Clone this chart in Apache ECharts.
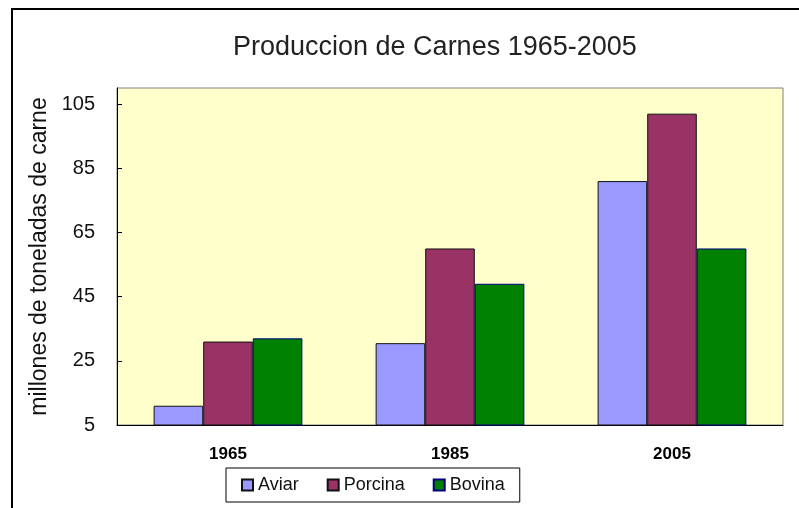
<!DOCTYPE html>
<html>
<head>
<meta charset="utf-8">
<script src="https://cdn.jsdelivr.net/npm/echarts@6/dist/echarts.min.js"></script>
<style>
  html, body { margin: 0; padding: 0; background: #fff; }
  #chart { width: 799px; height: 508px; }
</style>
</head>
<body>
<div id="chart"></div>
<script>
// datos
var years = ['1965', '1985', '2005']
var aviar = [11, 30.5, 81]
var porcina = [31, 60, 102]
var bovina = [32, 49, 60]
var yTicks = [5, 25, 45, 65, 85, 105]

var myChart = echarts.init(document.getElementById('chart'))

function barSeries(name, data, color, border) {
  return {
    name: name,
    type: 'bar',
    data: data,
    barGap: '0%',
    barCategoryGap: '33%',
    itemStyle: { color: color, borderColor: border, borderWidth: 1 }
  }
}

myChart.setOption({
  animation: false,
  backgroundColor: '#fff',
  graphic: [{
    type: 'rect',
    shape: { x: 12, y: 9, width: 820, height: 620 },
    style: { fill: 'none', stroke: '#000', lineWidth: 2 },
    silent: true,
    z: -1
  }],
  title: {
    text: 'Produccion de Carnes 1965-2005',
    left: 228,
    top: 29,
    textStyle: { fontFamily: 'Liberation Sans', fontSize: 27, fontWeight: 'normal', color: '#222' }
  },
  grid: {
    left: 117, right: 16, top: 88, bottom: 83,
    show: true,
    backgroundColor: '#FFFFCC',
    borderColor: '#808080',
    borderWidth: 1
  },
  legend: {
    left: 226,
    top: 468,
    padding: [8, 15],
    itemGap: 28,
    itemWidth: 11,
    itemHeight: 11,
    borderColor: '#000',
    borderWidth: 1,
    icon: 'rect',
    textStyle: { fontFamily: 'Liberation Sans', fontSize: 18, color: '#111' },
    data: ['Aviar', 'Porcina', 'Bovina']
  },
  xAxis: {
    type: 'category',
    data: years,
    axisLine: { lineStyle: { color: '#000', width: 1 } },
    axisTick: { show: false },
    axisLabel: { margin: 21, fontFamily: 'Liberation Sans', fontSize: 17, fontWeight: 'bold', color: '#000' }
  },
  yAxis: {
    type: 'value',
    min: 5,
    max: 110,
    name: 'millones de toneladas de carne',
    nameLocation: 'middle',
    nameRotate: 90,
    nameGap: 63,
    nameTextStyle: { fontFamily: 'Liberation Sans', fontSize: 23, color: '#111' },
    splitLine: { show: false },
    axisLine: { show: true, lineStyle: { color: '#000', width: 1 } },
    axisTick: { show: true, inside: true, length: 5, customValues: yTicks, lineStyle: { color: '#000' } },
    axisLabel: { margin: 22, customValues: yTicks, fontFamily: 'Liberation Sans', fontSize: 20, color: '#111' }
  },
  series: [
    barSeries('Aviar', aviar, '#9999FF', '#111'),
    barSeries('Porcina', porcina, '#993366', '#111'),
    barSeries('Bovina', bovina, '#008000', '#000080')
  ]
})
</script>
</body>
</html>
